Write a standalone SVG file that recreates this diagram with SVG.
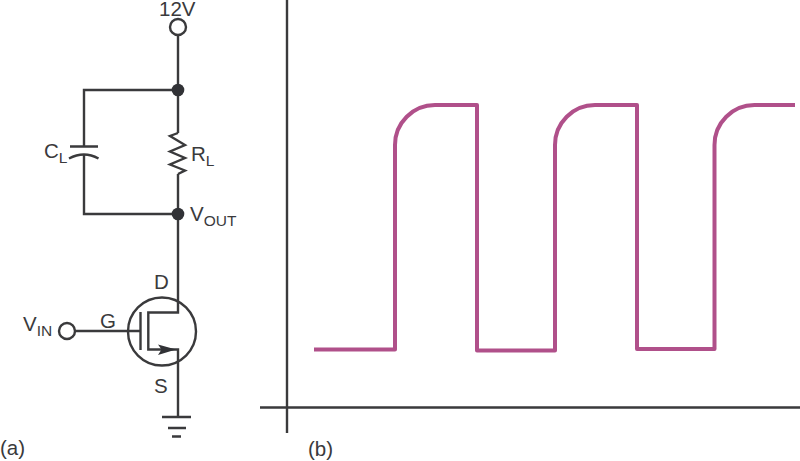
<svg xmlns="http://www.w3.org/2000/svg" width="800" height="461" viewBox="0 0 800 461">
<style>
.w{fill:none;stroke:#3a3a3c;stroke-width:2.4}
.o{fill:#fff;stroke:#3a3a3c;stroke-width:2.4}
.d{fill:#313236}
text{font-family:"Liberation Sans",Arial,sans-serif;font-size:20.500px;fill:#3a3a3c}
.s{font-size:15.500px}
.wave{fill:none;stroke:#b0508a;stroke-width:4;stroke-linejoin:round}
</style>
<rect width="800" height="461" fill="#fff"/>
<g id="connectors">
<path class="w" d="M178 35V133M178 90H84V146.500M84 155V214H178M178 174V299"/>
<path class="w" d="M178 133L170 136L185 145L170 151.500L185 158L170 164.500L185 170.500L178 174"/>
<path class="w" d="M75 331H140"/>
<path class="w" d="M178 299V312.500H148.300V349.500H178V417"/>
</g>
<g id="node-12v"><circle class="o" cx="178" cy="27" r="8"/><text x="159" y="16">12V</text></g>
<g id="node-top"><circle class="d" cx="178" cy="90" r="6.300"/></g>
<g id="node-vout"><circle class="d" cx="178" cy="214" r="6.300"/><text x="190" y="221">V<tspan class="s" dy="5">OUT</tspan></text></g>
<g id="node-cl"><path class="w" d="M70 146.500H98M69 158.500Q84 150.500 98.500 158.500"/><text x="44" y="158">C<tspan class="s" dy="5">L</tspan></text></g>
<g id="node-rl"><text x="191" y="161">R<tspan class="s" dy="5">L</tspan></text></g>
<g id="node-mosfet">
<circle class="w" cx="162" cy="331.500" r="34"/>
<path class="w" d="M140.500 312V350"/>
<path class="d" d="M158 344.500L176 349.500L158 355L161.500 349.500Z"/>
<text x="154" y="289">D</text><text x="100" y="328">G</text><text x="154" y="393">S</text>
</g>
<g id="node-vin"><circle class="o" cx="67" cy="331" r="8"/><text x="23" y="331">V<tspan class="s" dy="5">IN</tspan></text></g>
<g id="node-ground"><path class="w" d="M162 417H191M168 428H186M172 436.500H181"/></g>
<text x="0" y="455">(a)</text>
<text x="308" y="456">(b)</text>
<g id="axes"><path class="w" d="M287 0V433M260 407.500H800"/></g>
<g id="waveform"><path class="wave" d="M314 349.500H395V145A40 40 0 0 1 435 105H477V350.500H555V145A40 40 0 0 1 595 105H637V349H714.500V145A40 40 0 0 1 754.500 105H795"/></g>
</svg>
